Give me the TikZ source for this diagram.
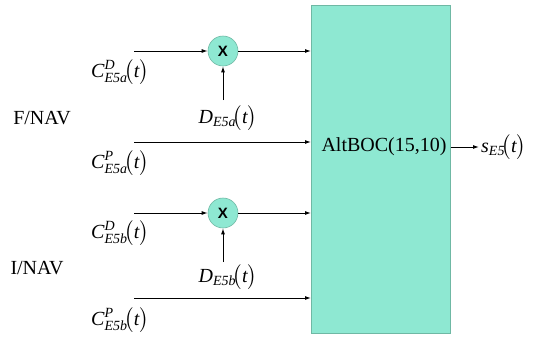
\documentclass[tikz,border=0pt]{standalone}
\usepackage{amsmath}
\usepackage{fontspec}
\setmainfont{Liberation Serif}
\newfontfamily\xsans{Liberation Sans}
\usetikzlibrary{arrows.meta}
\definecolor{aqua}{HTML}{8EE8D2}
\definecolor{aquaedge}{HTML}{6FB8A4}
\newcommand{\sig}[3]{\textit{#1}$^{\text{\itshape #2}}_{\text{\itshape #3}}\!\bigl(\text{\itshape t}\bigr)$}
\newcommand{\sigd}[2]{\textit{#1}$_{\text{\itshape #2}}\!\bigl(\text{\itshape t}\bigr)$}
\begin{document}
\begin{tikzpicture}[x=1pt,y=-1pt,
  lbl/.style={font=\fontsize{20}{23}\selectfont, inner sep=0pt},
  arr/.style={-{Latex[length=6pt,width=4pt]}, line width=1pt, black},
  mult/.style={circle, fill=aqua, draw=aquaedge, line width=0.6pt, minimum size=30pt, inner sep=0pt, font=\xsans\bfseries\fontsize{15}{15}\selectfont}]
\useasboundingbox (0,0) rectangle (539,338);
\node[draw=aquaedge, fill=aqua, line width=0.6pt, minimum width=139pt, minimum height=328pt, inner sep=0pt, anchor=north west] (box) at (311,5) {};
\node[lbl] (alt) at (384,147) {AltBOC(15,10)};
% inputs
\coordinate (a1) at (134,51);
\coordinate (a2) at (134,142);
\coordinate (a3) at (134,213);
\coordinate (a4) at (134,298);
\node[mult] (m1) at (223,51) {X};
\node[mult] (m2) at (223,213) {X};
\coordinate (d1) at (223,100);
\coordinate (d2) at (223,262);
\draw[arr] (a1) -- (m1);
\draw[arr] (m1) -- (m1 -| box.west);
\draw[arr] (a2) -- (a2 -| box.west);
\draw[arr] (a3) -- (m2);
\draw[arr] (m2) -- (m2 -| box.west);
\draw[arr] (a4) -- (a4 -| box.west);
\draw[arr] (d1) -- (m1);
\draw[arr] (d2) -- (m2);
% labels
\node[lbl] (l1) at (120,72) {\sig{C}{D}{E5a}};
\node[lbl] (l2) at (228,118) {\sigd{D}{E5a}};
\node[lbl] (l3) at (120,163) {\sig{C}{P}{E5a}};
\node[lbl] (l4) at (120,233) {\sig{C}{D}{E5b}};
\node[lbl] (l5) at (228,277) {\sigd{D}{E5b}};
\node[lbl] (l6) at (120,320) {\sig{C}{P}{E5b}};
\node[lbl] (fnav) at (42,118) {F/NAV};
\node[lbl] (inav) at (37,268) {I/NAV};
% output
\coordinate (oe) at (479,147);
\draw[arr] (box.east |- oe) -- (oe);
\node[lbl, anchor=west] (out) at (481,147) {\sigd{s}{E5}};
\end{tikzpicture}
\end{document}
